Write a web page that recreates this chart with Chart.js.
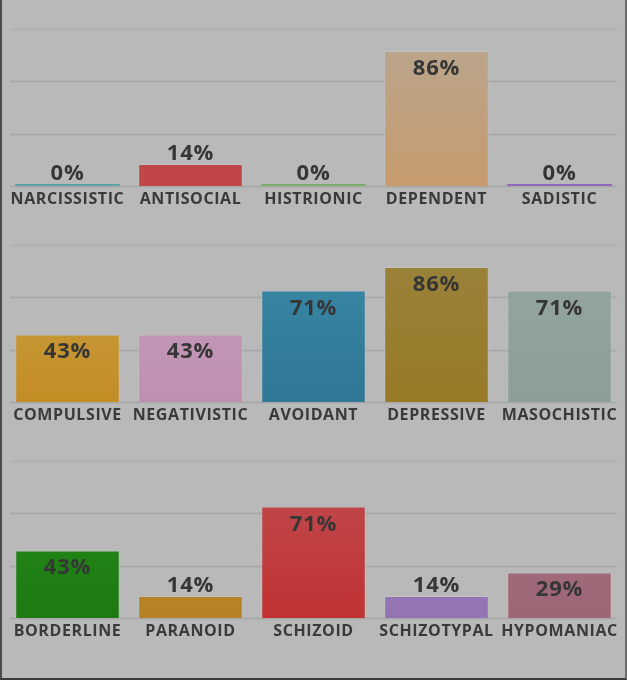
<!DOCTYPE html>
<html>
<head>
<meta charset="utf-8">
<script src="https://cdn.jsdelivr.net/npm/chart.js@4.4.1/dist/chart.umd.min.js"></script>
<style>
  html, body { margin: 0; padding: 0; }
  body { width: 627px; height: 680px; background: #b9b9b9; position: relative; overflow: hidden; font-family: "Open Sans", sans-serif; }
  .panel { position: relative; width: 627px; height: 216px; }
  .frame { position: absolute; left: 0; top: 0; width: 623px; height: 678px; border-left: 2px solid #4a4a4a; border-right: 2px solid #6a6a6a; border-bottom: 2px solid #3a3a3a; pointer-events: none; }
</style>
</head>
<body>
<div class="panel"><canvas id="chart1"></canvas></div>
<div class="panel"><canvas id="chart2"></canvas></div>
<div class="panel"><canvas id="chart3"></canvas></div>
<div class="frame"></div>
<script>
// values (percent)
const categories1 = ['NARCISSISTIC', 'ANTISOCIAL', 'HISTRIONIC', 'DEPENDENT', 'SADISTIC'];
const values1 = [0, 14, 0, 86, 0];

const categories2 = ['COMPULSIVE', 'NEGATIVISTIC', 'AVOIDANT', 'DEPRESSIVE', 'MASOCHISTIC'];
const values2 = [43, 43, 71, 86, 71];

const categories3 = ['BORDERLINE', 'PARANOID', 'SCHIZOID', 'SCHIZOTYPAL', 'HYPOMANIAC'];
const values3 = [43, 14, 71, 14, 29];

const gridTicks = [0, 33.33, 66.67, 100];

// bar colours, top and bottom of the gradient
const topColors1 = ['#5fa0a6', '#c24b4e', '#7bad6a', '#b9a690', '#8b69ba'];
const bottomColors1 = ['#5fa0a6', '#c04648', '#7bad6a', '#c69b6d', '#8b69ba'];
const topColors2 = ['#c9a445', '#c69cba', '#3a89a9', '#9a833c', '#94a69e'];
const bottomColors2 = ['#c38c25', '#bf8fb2', '#2f7794', '#987a27', '#8c9e97'];
const topColors3 = ['#268d1b', '#bb8830', '#c04d50', '#987cb8', '#a26e7c'];
const bottomColors3 = ['#1d7a12', '#b68124', '#c03233', '#9274b2', '#9e6775'];

const spacingPlugin = {
  id: 'letterSpacing',
  beforeDraw(chart) {
    chart.ctx.letterSpacing = '0.6px';
  }
};

const gridPlugin = {
  id: 'gridLines',
  beforeDatasetsDraw(chart) {
    const ctx = chart.ctx;
    const y = chart.scales.y;
    ctx.save();
    gridTicks.forEach((t, i) => {
      const py = Math.round(y.getPixelForValue(t)) + 0.5;
      ctx.strokeStyle = i === gridTicks.length - 1 ? '#afafaf' : '#a9a9a9';
      ctx.lineWidth = 2;
      ctx.beginPath();
      ctx.moveTo(10, py);
      ctx.lineTo(617, py);
      ctx.stroke();
    });
    ctx.restore();
  }
};

const valuePlugin = {
  id: 'valueLabels',
  afterDatasetsDraw(chart) {
    const ctx = chart.ctx;
    const meta = chart.getDatasetMeta(0);
    const data = chart.data.datasets[0].data;
    ctx.save();
    ctx.letterSpacing = '0.8px';
    ctx.font = 'bold 22px "Open Sans"';
    ctx.fillStyle = '#363636';
    ctx.textAlign = 'center';
    ctx.textBaseline = 'alphabetic';
    meta.data.forEach((bar, i) => {
      const h = bar.base - bar.y;
      const txt = data[i] + '%';
      if (h > 35) {
        ctx.fillText(txt, bar.x, bar.y + 24);
      } else {
        ctx.fillText(txt, bar.x, bar.y - 4);
      }
    });
    ctx.restore();
  }
};

function makeChart(id, labels, values, tops, bottoms) {
  const el = document.getElementById(id);
  return new Chart(el, {
    type: 'bar',
    data: {
      labels: labels,
      datasets: [{
        data: values,
        backgroundColor: function (c) {
          const chart = c.chart;
          const area = chart.chartArea;
          const i = c.dataIndex;
          if (!area) return bottoms[i];
          const g = chart.ctx.createLinearGradient(0, area.top, 0, area.bottom);
          g.addColorStop(0, tops[i]);
          g.addColorStop(1, bottoms[i]);
          return g;
        },
        borderColor: 'rgba(255,255,255,0.12)',
        borderWidth: function (c) {
          return c.raw > 0 ? 1 : 0;
        },
        borderSkipped: 'bottom',
        minBarLength: 2,
        barPercentage: 0.85,
        categoryPercentage: 1
      }]
    },
    options: {
      responsive: true,
      maintainAspectRatio: false,
      animation: false,
      layout: {
        padding: { top: 29, left: 6, right: 6, bottom: 0 }
      },
      scales: {
        y: {
          display: false,
          min: 0,
          max: 100
        },
        x: {
          grid: { display: false, drawTicks: false },
          border: { display: false },
          ticks: {
            color: '#3a3a3a',
            padding: 4,
            maxRotation: 0,
            autoSkip: false,
            font: { family: '"Open Sans"', size: 16, weight: 'bold' }
          },
          afterFit(scale) {
            scale.height = 30;
          }
        }
      },
      plugins: {
        legend: { display: false },
        tooltip: { enabled: false }
      }
    },
    plugins: [spacingPlugin, gridPlugin, valuePlugin]
  });
}

makeChart('chart1', categories1, values1, topColors1, bottomColors1);
makeChart('chart2', categories2, values2, topColors2, bottomColors2);
makeChart('chart3', categories3, values3, topColors3, bottomColors3);
</script>
</body>
</html>
